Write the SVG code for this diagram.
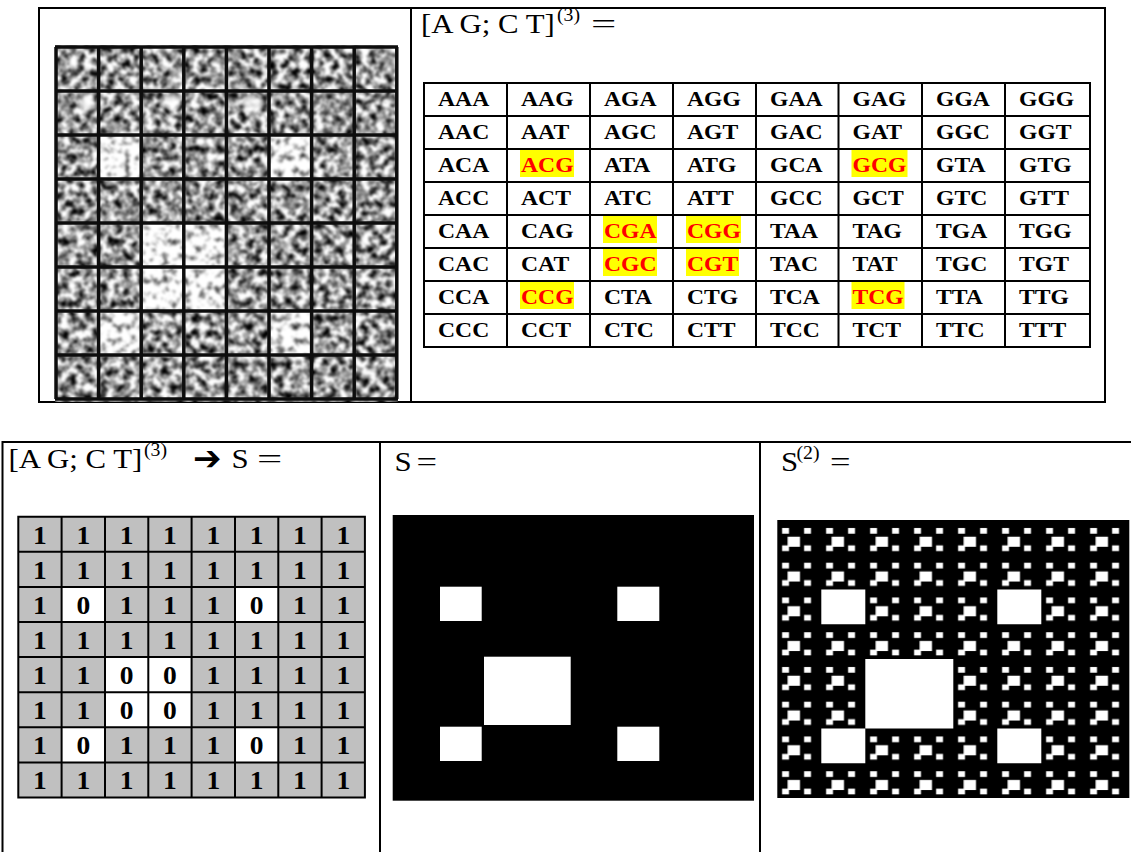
<svg xmlns="http://www.w3.org/2000/svg" width="1131" height="852" viewBox="0 0 1131 852">
<style>
.serif{font-family:"Liberation Serif","Times New Roman",serif;fill:#000}
.ttl{font-size:28px}
.sup{font-size:18px}
.sx{transform-box:fill-box;transform-origin:0 50%;transform:scaleX(1.1)}
.eq{transform-box:fill-box;transform-origin:0 50%}
.tb{font-weight:bold;font-size:21.5px}
.red{fill:#ff0000}
.hl{fill:#ffff00}
.num{font-weight:bold;font-size:25px;text-anchor:middle;transform-box:fill-box;transform-origin:50% 50%;transform:scaleX(1.1)}
.frame{fill:none;stroke:#000;stroke-width:2}
.grid{fill:none;stroke:#000;stroke-width:2}
</style>
<defs>
<filter id="fDark" x="0" y="0" width="1" height="1" color-interpolation-filters="sRGB">
<feTurbulence type="fractalNoise" baseFrequency="0.13" numOctaves="3" seed="7"/>
<feColorMatrix type="matrix" values="2.4 0 0 0 -0.6  2.4 0 0 0 -0.6  2.4 0 0 0 -0.6  0 0 0 0 1"/>
<feGaussianBlur stdDeviation="0.8"/>
</filter>
<filter id="fLight" x="0" y="0" width="1" height="1" color-interpolation-filters="sRGB">
<feTurbulence type="fractalNoise" baseFrequency="0.13" numOctaves="3" seed="11"/>
<feColorMatrix type="matrix" values="2.3 0 0 0 -0.15  2.3 0 0 0 -0.15  2.3 0 0 0 -0.15  0 0 0 0 1"/>
<feGaussianBlur stdDeviation="0.8"/>
</filter>
<filter id="fBlur" x="-5%" y="-5%" width="110%" height="110%">
<feGaussianBlur stdDeviation="0.7"/>
</filter>
<filter id="fSoft" x="-50%" y="-50%" width="200%" height="200%">
<feGaussianBlur stdDeviation="2.5"/>
</filter>
<pattern id="sBlock" patternUnits="userSpaceOnUse" x="777.3" y="520" width="44" height="34.75">
<rect width="44" height="34.75" fill="#000"/>
<g fill="#fff">
<rect x="4.8" y="8" width="6.9" height="5.7"/>
<rect x="26.8" y="8" width="6.9" height="5.7"/>
<rect x="10.3" y="16.7" width="12.4" height="10.1"/>
<rect x="4.8" y="25.4" width="6.9" height="5.7"/>
<rect x="26.8" y="25.4" width="6.9" height="5.7"/>
</g>
</pattern>
</defs>

<g id="top-frame">
<rect class="frame" x="39" y="8" width="1066" height="394"/>
<line x1="411" y1="8" x2="411" y2="402" stroke="#000" stroke-width="2"/>
</g>

<g id="microarray">
<rect x="55" y="45" width="343" height="357" fill="#777" filter="url(#fDark)"/>
<rect x="98.6" y="135" width="42.6" height="44" filter="url(#fLight)"/>
<rect x="269" y="135" width="42.6" height="44" filter="url(#fLight)"/>
<rect x="141.2" y="223" width="42.6" height="44" filter="url(#fLight)"/>
<rect x="183.8" y="223" width="42.6" height="44" filter="url(#fLight)"/>
<rect x="141.2" y="267" width="42.6" height="44" filter="url(#fLight)"/>
<rect x="183.8" y="267" width="42.6" height="44" filter="url(#fLight)"/>
<rect x="98.6" y="311" width="42.6" height="44" filter="url(#fLight)"/>
<rect x="269" y="311" width="42.6" height="44" filter="url(#fLight)"/>
<g fill="#fff" opacity="0.8" filter="url(#fSoft)">
<ellipse cx="87" cy="102" rx="7" ry="9"/>
<ellipse cx="172" cy="101" rx="8" ry="8"/>
<ellipse cx="252" cy="104" rx="9" ry="8"/>
<ellipse cx="74" cy="62" rx="5" ry="5"/>
</g>
<path d="M56 47V399M98.6 47V399M141.2 47V399M183.8 47V399M226.4 47V399M269 47V399M311.6 47V399M354.2 47V399M396.8 47V399M55 47H398M55 91H398M55 135H398M55 179H398M55 223H398M55 267H398M55 311H398M55 355H398M55 399H398" stroke="#111" stroke-width="3.5" fill="none" filter="url(#fBlur)"/>
</g>

<g id="codon-title">
<text class="serif ttl sx" x="421" y="33">[A G; C T]</text>
<text class="serif sup sx" x="557" y="21.5">(3)</text>
<text class="serif ttl eq" x="591" y="33" style="transform:scaleX(1.6)">=</text>
</g>

<g id="codon-table">
<g>
<rect class="hl" x="520" y="150" width="54" height="27"/>
<rect class="hl" x="851.5" y="150" width="56" height="27"/>
<rect class="hl" x="603" y="216" width="54" height="27"/>
<rect class="hl" x="686" y="216" width="55" height="27"/>
<rect class="hl" x="603" y="249" width="54" height="27"/>
<rect class="hl" x="686" y="249" width="53" height="27"/>
<rect class="hl" x="520" y="282" width="54" height="27"/>
<rect class="hl" x="851.5" y="282" width="53" height="27"/>
</g>
<path class="grid" d="M424 83H1090V347H424ZM507 83V347M590 83V347M673 83V347M756 83V347M838.5 83V347M922 83V347M1005 83V347M424 116H1090M424 149H1090M424 182H1090M424 215H1090M424 248H1090M424 281H1090M424 314H1090"/>
<g class="serif tb">
<text class="sx" x="438" y="106">AAA</text><text class="sx" x="521" y="106">AAG</text><text class="sx" x="604" y="106">AGA</text><text class="sx" x="687" y="106">AGG</text><text class="sx" x="770" y="106">GAA</text><text class="sx" x="852.5" y="106">GAG</text><text class="sx" x="936" y="106">GGA</text><text class="sx" x="1019" y="106">GGG</text>
<text class="sx" x="438" y="139">AAC</text><text class="sx" x="521" y="139">AAT</text><text class="sx" x="604" y="139">AGC</text><text class="sx" x="687" y="139">AGT</text><text class="sx" x="770" y="139">GAC</text><text class="sx" x="852.5" y="139">GAT</text><text class="sx" x="936" y="139">GGC</text><text class="sx" x="1019" y="139">GGT</text>
<text class="sx" x="438" y="172">ACA</text><text class="sx red" x="521" y="172">ACG</text><text class="sx" x="604" y="172">ATA</text><text class="sx" x="687" y="172">ATG</text><text class="sx" x="770" y="172">GCA</text><text class="sx red" x="852.5" y="172">GCG</text><text class="sx" x="936" y="172">GTA</text><text class="sx" x="1019" y="172">GTG</text>
<text class="sx" x="438" y="205">ACC</text><text class="sx" x="521" y="205">ACT</text><text class="sx" x="604" y="205">ATC</text><text class="sx" x="687" y="205">ATT</text><text class="sx" x="770" y="205">GCC</text><text class="sx" x="852.5" y="205">GCT</text><text class="sx" x="936" y="205">GTC</text><text class="sx" x="1019" y="205">GTT</text>
<text class="sx" x="438" y="238">CAA</text><text class="sx" x="521" y="238">CAG</text><text class="sx red" x="604" y="238">CGA</text><text class="sx red" x="687" y="238">CGG</text><text class="sx" x="770" y="238">TAA</text><text class="sx" x="852.5" y="238">TAG</text><text class="sx" x="936" y="238">TGA</text><text class="sx" x="1019" y="238">TGG</text>
<text class="sx" x="438" y="271">CAC</text><text class="sx" x="521" y="271">CAT</text><text class="sx red" x="604" y="271">CGC</text><text class="sx red" x="687" y="271">CGT</text><text class="sx" x="770" y="271">TAC</text><text class="sx" x="852.5" y="271">TAT</text><text class="sx" x="936" y="271">TGC</text><text class="sx" x="1019" y="271">TGT</text>
<text class="sx" x="438" y="304">CCA</text><text class="sx red" x="521" y="304">CCG</text><text class="sx" x="604" y="304">CTA</text><text class="sx" x="687" y="304">CTG</text><text class="sx" x="770" y="304">TCA</text><text class="sx red" x="852.5" y="304">TCG</text><text class="sx" x="936" y="304">TTA</text><text class="sx" x="1019" y="304">TTG</text>
<text class="sx" x="438" y="337">CCC</text><text class="sx" x="521" y="337">CCT</text><text class="sx" x="604" y="337">CTC</text><text class="sx" x="687" y="337">CTT</text><text class="sx" x="770" y="337">TCC</text><text class="sx" x="852.5" y="337">TCT</text><text class="sx" x="936" y="337">TTC</text><text class="sx" x="1019" y="337">TTT</text>
</g>
</g>

<g id="bottom-frame">
<path d="M2.5 852V442H1131M380 442V852M760 442V852" fill="none" stroke="#000" stroke-width="2"/>
</g>

<g id="binary-title">
<text class="serif ttl sx" x="8.5" y="468">[A G; C T]</text>
<text class="serif sup sx" x="144" y="456.5">(3)</text>
<text x="193" y="470" style="font-family:'DejaVu Sans',sans-serif;font-size:34px;font-weight:bold">➔</text>
<text class="serif ttl sx" x="231.5" y="468">S</text>
<text class="serif ttl eq" x="257" y="468" style="transform:scaleX(1.6)">=</text>
</g>

<g id="binary-matrix">
<rect x="18.3" y="516.7" width="346.6" height="280.8" fill="#c0c0c0"/>
<g fill="#fff">
<rect x="61.6" y="586.9" width="43.4" height="35.1"/>
<rect x="235" y="586.9" width="43.3" height="35.1"/>
<rect x="105" y="657.1" width="86.6" height="70.2"/>
<rect x="61.6" y="727.3" width="43.4" height="35.1"/>
<rect x="235" y="727.3" width="43.3" height="35.1"/>
</g>
<path class="grid" d="M18.3 516.7H364.9V797.5H18.3ZM61.6 516.7V797.5M105 516.7V797.5M148.3 516.7V797.5M191.6 516.7V797.5M235 516.7V797.5M278.3 516.7V797.5M321.6 516.7V797.5M18.3 551.8H364.9M18.3 586.9H364.9M18.3 622H364.9M18.3 657.1H364.9M18.3 692.2H364.9M18.3 727.3H364.9M18.3 762.4H364.9"/>
<g class="serif">
<text class="num" x="40" y="543.7">1</text><text class="num" x="83.3" y="543.7">1</text><text class="num" x="126.6" y="543.7">1</text><text class="num" x="170" y="543.7">1</text><text class="num" x="213.3" y="543.7">1</text><text class="num" x="256.6" y="543.7">1</text><text class="num" x="299.9" y="543.7">1</text><text class="num" x="343.3" y="543.7">1</text>
<text class="num" x="40" y="578.8">1</text><text class="num" x="83.3" y="578.8">1</text><text class="num" x="126.6" y="578.8">1</text><text class="num" x="170" y="578.8">1</text><text class="num" x="213.3" y="578.8">1</text><text class="num" x="256.6" y="578.8">1</text><text class="num" x="299.9" y="578.8">1</text><text class="num" x="343.3" y="578.8">1</text>
<text class="num" x="40" y="613.9">1</text><text class="num" x="83.3" y="613.9">0</text><text class="num" x="126.6" y="613.9">1</text><text class="num" x="170" y="613.9">1</text><text class="num" x="213.3" y="613.9">1</text><text class="num" x="256.6" y="613.9">0</text><text class="num" x="299.9" y="613.9">1</text><text class="num" x="343.3" y="613.9">1</text>
<text class="num" x="40" y="649">1</text><text class="num" x="83.3" y="649">1</text><text class="num" x="126.6" y="649">1</text><text class="num" x="170" y="649">1</text><text class="num" x="213.3" y="649">1</text><text class="num" x="256.6" y="649">1</text><text class="num" x="299.9" y="649">1</text><text class="num" x="343.3" y="649">1</text>
<text class="num" x="40" y="684.1">1</text><text class="num" x="83.3" y="684.1">1</text><text class="num" x="126.6" y="684.1">0</text><text class="num" x="170" y="684.1">0</text><text class="num" x="213.3" y="684.1">1</text><text class="num" x="256.6" y="684.1">1</text><text class="num" x="299.9" y="684.1">1</text><text class="num" x="343.3" y="684.1">1</text>
<text class="num" x="40" y="719.2">1</text><text class="num" x="83.3" y="719.2">1</text><text class="num" x="126.6" y="719.2">0</text><text class="num" x="170" y="719.2">0</text><text class="num" x="213.3" y="719.2">1</text><text class="num" x="256.6" y="719.2">1</text><text class="num" x="299.9" y="719.2">1</text><text class="num" x="343.3" y="719.2">1</text>
<text class="num" x="40" y="754.3">1</text><text class="num" x="83.3" y="754.3">0</text><text class="num" x="126.6" y="754.3">1</text><text class="num" x="170" y="754.3">1</text><text class="num" x="213.3" y="754.3">1</text><text class="num" x="256.6" y="754.3">0</text><text class="num" x="299.9" y="754.3">1</text><text class="num" x="343.3" y="754.3">1</text>
<text class="num" x="40" y="789.4">1</text><text class="num" x="83.3" y="789.4">1</text><text class="num" x="126.6" y="789.4">1</text><text class="num" x="170" y="789.4">1</text><text class="num" x="213.3" y="789.4">1</text><text class="num" x="256.6" y="789.4">1</text><text class="num" x="299.9" y="789.4">1</text><text class="num" x="343.3" y="789.4">1</text>
</g>
</g>

<g id="s-image">
<text class="serif ttl sx" x="394.5" y="471">S</text>
<text class="serif ttl eq" x="416.5" y="471" style="transform:scaleX(1.3)">=</text>
<rect x="392.7" y="515" width="361.3" height="285.7" fill="#000"/>
<g fill="#fff">
<rect x="440" y="586.7" width="41.7" height="34.3"/>
<rect x="617.3" y="586.7" width="42" height="34.3"/>
<rect x="484" y="656.7" width="86.7" height="68.3"/>
<rect x="440" y="726.7" width="41.7" height="34.3"/>
<rect x="617.3" y="726.7" width="42" height="34.3"/>
</g>
</g>

<g id="s2-image">
<text class="serif ttl sx" x="781" y="471">S</text>
<text class="serif sup sx" x="796.5" y="459.5">(2)</text>
<text class="serif ttl eq" x="830" y="471" style="transform:scaleX(1.3)">=</text>
<rect x="777.3" y="520" width="352" height="278" fill="url(#sBlock)"/>
<g fill="#fff">
<rect x="821.3" y="589.5" width="44" height="34.75"/>
<rect x="997.3" y="589.5" width="44" height="34.75"/>
<rect x="865.3" y="659" width="88" height="69.5"/>
<rect x="821.3" y="728.5" width="44" height="34.75"/>
<rect x="997.3" y="728.5" width="44" height="34.75"/>
</g>
</g>
</svg>
